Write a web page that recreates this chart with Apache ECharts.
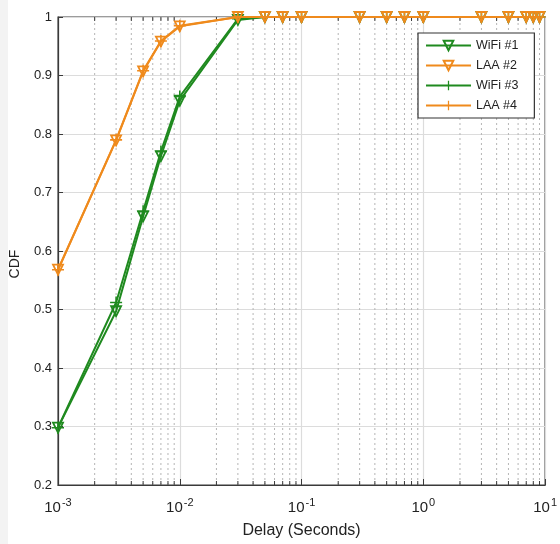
<!DOCTYPE html>
<html>
<head>
<meta charset="utf-8">
<script src="https://cdn.jsdelivr.net/npm/echarts@6/dist/echarts.min.js"></script>
<style>
  html, body { margin: 0; padding: 0; background: #fff; }
  #chart { width: 560px; height: 544px; }
</style>
</head>
<body>
<div id="chart"></div>
<script>
// Delay values (seconds) at which each CDF curve is sampled
const delays = [0.001, 0.003, 0.005, 0.007, 0.01, 0.03, 0.05, 0.07, 0.1, 0.3, 0.5, 0.7, 1, 3, 5, 7, 8, 9];

// CDF values per curve
const wifi1 = [0.298, 0.497, 0.659, 0.762, 0.857, 0.995, 1, 1, 1, 1, 1, 1, 1, 1, 1, 1, 1, 1];
const laa2  = [0.568, 0.789, 0.907, 0.958, 0.984, 1, 1, 1, 1, 1, 1, 1, 1, 1, 1, 1, 1, 1];
const wifi3 = [0.298, 0.512, 0.668, 0.770, 0.864, 0.997, 1, 1, 1, 1, 1, 1, 1, 1, 1, 1, 1, 1];
const laa4  = [0.568, 0.790, 0.908, 0.959, 0.985, 1, 1, 1, 1, 1, 1, 1, 1, 1, 1, 1, 1, 1];

const seriesNames = ['WiFi #1', 'LAA #2', 'WiFi #3', 'LAA #4'];

// Minor log-decade positions (2..9 times each power of ten)
const minorTicks = [];
for (let e = -3; e < 1; e++) {
  for (let m = 2; m <= 9; m++) minorTicks.push(+(m * Math.pow(10, e)).toPrecision(3));
}

const GREEN = '#1f8a1f';
const ORANGE = '#ef8a1c';
const PLUS = 'path://M8.7,0H11.3V8.7H20V11.3H11.3V20H8.7V11.3H0V8.7H8.7Z';

const chart = echarts.init(document.getElementById('chart'), null, { renderer: 'canvas' });

function pairs(ys) { return delays.map((d, i) => [d, ys[i]]); }

function triSeries(name, ys, color, z) {
  return {
    name, type: 'line', data: pairs(ys), clip: false, z,
    symbol: 'triangle', symbolRotate: 180, symbolSize: 10,
    lineStyle: { color, width: 2 },
    itemStyle: { color: 'rgba(255,255,255,0)', borderColor: color, borderWidth: 1.8 },
    emphasis: { disabled: true }
  };
}
function plusSeries(name, ys, color, z) {
  return {
    name, type: 'line', data: pairs(ys), clip: false, z,
    symbol: PLUS, symbolSize: 12, symbolKeepAspect: true,
    lineStyle: { color, width: 2 },
    itemStyle: { color, borderWidth: 0 },
    emphasis: { disabled: true }
  };
}

const option = {
  animation: false,
  backgroundColor: '#fff',
  textStyle: { fontFamily: 'Liberation Sans, Arial, sans-serif' },
  graphic: [{
    type: 'rect', left: 0, top: 0, z: -10,
    shape: { width: 8, height: 544 },
    style: { fill: '#f3f3f3' }
  }],
  grid: {
    left: 57, right: 12, top: 17, bottom: 58,
    show: true, borderColor: '#3a3a3a', borderWidth: 1.2, backgroundColor: 'transparent'
  },
  legend: {
    data: seriesNames,
    orient: 'vertical',
    left: 418, top: 33,
    padding: [6, 16, 6, 7],
    itemWidth: 45, itemHeight: 12, itemGap: 7,
    backgroundColor: '#fff',
    borderColor: '#333', borderWidth: 1.2,
    textStyle: { fontSize: 12.5, color: '#222', fontFamily: 'Liberation Sans, Arial, sans-serif' },
    z: 20
  },
  xAxis: {
    type: 'log', logBase: 10, min: 0.001, max: 10,
    name: 'Delay (Seconds)', nameLocation: 'middle', nameGap: 38,
    nameTextStyle: { fontSize: 16, color: '#222' },
    axisLine: { show: true, lineStyle: { color: '#3a3a3a', width: 1.2 } },
    axisTick: { show: true, inside: true, length: 6, lineStyle: { color: '#3a3a3a' } },
    splitLine: { show: true, lineStyle: { color: '#dcdcdc', width: 1.2 } },
    axisLabel: {
      margin: 12,
      fontSize: 15, color: '#222',
      formatter: v => '10{sup|' + Math.round(Math.log10(v)) + '}',
      rich: { sup: { fontSize: 11, color: '#222', verticalAlign: 'bottom', padding: [0, 0, 10, 1] } }
    }
  },
  yAxis: {
    type: 'value', min: 0.2, max: 1, interval: 0.1,
    name: 'CDF', nameLocation: 'middle', nameGap: 36,
    nameTextStyle: { fontSize: 14, color: '#222', padding: [0, 0, 0, -26] },
    axisLine: { show: true, lineStyle: { color: '#3a3a3a', width: 1.2 } },
    axisTick: { show: true, inside: true, length: 5, lineStyle: { color: '#3a3a3a' } },
    splitLine: { show: true, lineStyle: { color: '#dcdcdc', width: 1.2 } },
    axisLabel: { margin: 6, fontSize: 13, color: '#222' }
  },
  series: [
    {
      // dotted minor gridlines plus inward minor ticks on bottom and top edges
      name: 'minor', type: 'custom', silent: true, z: 1,
      data: minorTicks.map(v => [v]),
      encode: { x: 0 },
      renderItem: function (params, api) {
        const x = api.value(0);
        const p0 = api.coord([x, 0.2]);
        const p1 = api.coord([x, 1]);
        return {
          type: 'group',
          children: [
            { type: 'line', shape: { x1: p0[0], y1: p0[1], x2: p1[0], y2: p1[1] },
              style: { stroke: '#b5b5b5', lineWidth: 1, lineDash: [2, 3] } },
            { type: 'line', shape: { x1: p0[0], y1: p0[1], x2: p0[0], y2: p0[1] - 4 },
              style: { stroke: '#3a3a3a', lineWidth: 1 } },
            { type: 'line', shape: { x1: p1[0], y1: p1[1], x2: p1[0], y2: p1[1] + 4 },
              style: { stroke: '#3a3a3a', lineWidth: 1 } }
          ]
        };
      }
    },
    triSeries('WiFi #1', wifi1, GREEN, 3),
    triSeries('LAA #2', laa2, ORANGE, 5),
    plusSeries('WiFi #3', wifi3, GREEN, 4),
    plusSeries('LAA #4', laa4, ORANGE, 6)
  ]
};

chart.setOption(option);
</script>
</body>
</html>
